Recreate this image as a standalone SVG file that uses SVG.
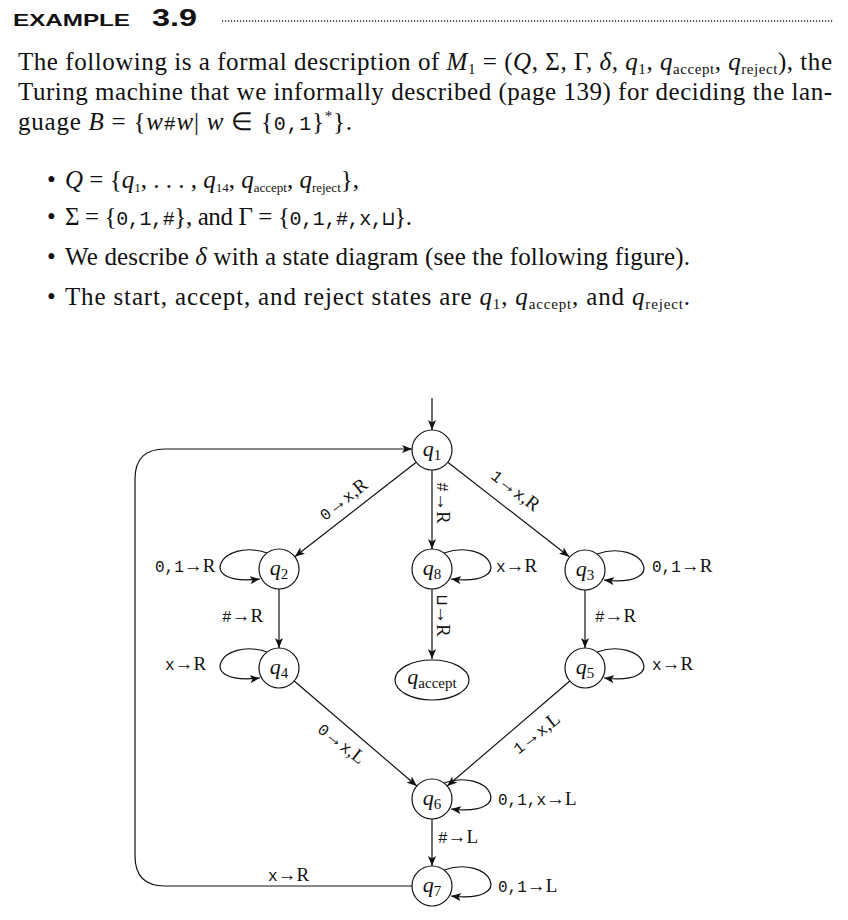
<svg xmlns="http://www.w3.org/2000/svg" width="848" height="920" viewBox="0 0 848 920">
<style>
.body{font-family:"Liberation Serif","Times New Roman",serif;font-size:25px;fill:#111}
.it{font-style:italic}
.sb{font-size:15px;font-style:normal}
.sb2{font-size:13px;font-style:normal}
.tt{font-family:"Liberation Mono","DejaVu Sans Mono",monospace;font-size:20px}
.lbl{font-family:"Liberation Serif",serif;font-size:19px;fill:#111}
.lt{font-family:"Liberation Mono",monospace;font-size:16px}
.st{font-family:"Liberation Serif",serif;font-size:22px;fill:#111;text-anchor:middle}
.node{fill:#fff;stroke:#111;stroke-width:1.2}
.edge{fill:none;stroke:#111;stroke-width:1.2}
</style>
<defs>
<marker id="ah" viewBox="0 0 10 8" refX="10" refY="4" markerWidth="10" markerHeight="8" markerUnits="userSpaceOnUse" orient="auto">
<path d="M0,0 L10,4 L0,8 L2.5,4 Z" fill="#111"/>
</marker>
</defs>
<rect width="848" height="920" fill="#fff"/>

<g id="header">
<text x="13" y="26" font-family="Liberation Sans, Arial, sans-serif" font-weight="bold" font-size="17" textLength="117" lengthAdjust="spacingAndGlyphs" fill="#111">EXAMPLE</text>
<text x="152" y="26" font-family="Liberation Sans, Arial, sans-serif" font-weight="bold" font-size="24" textLength="45" lengthAdjust="spacingAndGlyphs" fill="#111">3.9</text>
<line x1="222" y1="21" x2="833" y2="21" stroke="#222" stroke-width="1.4" stroke-dasharray="1.2 1.8"/>
</g>

<g id="intro" class="body">
<text x="18" y="70" textLength="814" lengthAdjust="spacing">The following is a formal description of <tspan class="it">M</tspan><tspan class="sb" dy="4">1</tspan><tspan dy="-4"> = (</tspan><tspan class="it">Q</tspan>, Σ, Γ, <tspan class="it">δ</tspan>, <tspan class="it">q</tspan><tspan class="sb" dy="4">1</tspan><tspan dy="-4">, </tspan><tspan class="it">q</tspan><tspan class="sb" dy="4">accept</tspan><tspan dy="-4">, </tspan><tspan class="it">q</tspan><tspan class="sb" dy="4">reject</tspan><tspan dy="-4">), the</tspan></text>
<text x="18" y="100" textLength="814" lengthAdjust="spacing">Turing machine that we informally described (page 139) for deciding the lan-</text>
<text x="18" y="130" textLength="334" lengthAdjust="spacing">guage <tspan class="it">B</tspan> = {<tspan class="it">w</tspan><tspan class="tt">#</tspan><tspan class="it">w</tspan>| <tspan class="it">w</tspan> ∈ {<tspan class="tt">0,1</tspan>}<tspan font-size="15" dy="-9">*</tspan><tspan dy="9">}.</tspan></text>
</g>

<g id="bullets" class="body">
<text x="47" y="188">•</text>
<text x="65" y="188"><tspan class="it">Q</tspan> = {<tspan class="it">q</tspan><tspan class="sb2" dy="4">1</tspan><tspan dy="-4">, . . . , </tspan><tspan class="it">q</tspan><tspan class="sb2" dy="4">14</tspan><tspan dy="-4">, </tspan><tspan class="it">q</tspan><tspan class="sb2" dy="4">accept</tspan><tspan dy="-4">, </tspan><tspan class="it">q</tspan><tspan class="sb2" dy="4">reject</tspan><tspan dy="-4">},</tspan></text>
<text x="47" y="225">•</text>
<text x="65" y="225" textLength="347" lengthAdjust="spacing">Σ = {<tspan class="tt">0,1,#</tspan>}, and Γ = {<tspan class="tt">0,1,#,x,⊔</tspan>}.</text>
<text x="47" y="265">•</text>
<text x="65" y="265" textLength="625" lengthAdjust="spacing">We describe <tspan class="it">δ</tspan> with a state diagram (see the following figure).</text>
<text x="47" y="305">•</text>
<text x="65" y="305" textLength="625" lengthAdjust="spacing">The start, accept, and reject states are <tspan class="it">q</tspan><tspan class="sb" dy="4">1</tspan><tspan dy="-4">, </tspan><tspan class="it">q</tspan><tspan class="sb" dy="4">accept</tspan><tspan dy="-4">, and </tspan><tspan class="it">q</tspan><tspan class="sb" dy="4">reject</tspan><tspan dy="-4">.</tspan></text>
</g>

<g id="connectors">
<line class="edge" x1="432" y1="398" x2="432" y2="430" marker-end="url(#ah)"/>
<path class="edge" d="M412,886 H165 Q135,886 135,856 V479 Q135,449 165,449 H412" marker-end="url(#ah)"/>
<line class="edge" x1="416.2" y1="462.3" x2="294.8" y2="556.7" marker-end="url(#ah)"/>
<line class="edge" x1="447.8" y1="462.3" x2="569.2" y2="556.7" marker-end="url(#ah)"/>
<line class="edge" x1="432" y1="470" x2="432" y2="549" marker-end="url(#ah)"/>
<line class="edge" x1="432" y1="589" x2="432" y2="659" marker-end="url(#ah)"/>
<line class="edge" x1="279" y1="589" x2="279" y2="648" marker-end="url(#ah)"/>
<line class="edge" x1="585" y1="590" x2="585" y2="648" marker-end="url(#ah)"/>
<line class="edge" x1="294.2" y1="681" x2="416.8" y2="786" marker-end="url(#ah)"/>
<line class="edge" x1="569.8" y1="681" x2="447.2" y2="786" marker-end="url(#ah)"/>
<line class="edge" x1="432" y1="819" x2="432" y2="866" marker-end="url(#ah)"/>
<path class="edge" d="M267,553 C221,537 193,587 260,579" marker-end="url(#ah)"/>
<path class="edge" d="M267,652 C221,636 193,686 260,678" marker-end="url(#ah)"/>
<path class="edge" d="M444,553 C490,537 518,587 451,579" marker-end="url(#ah)"/>
<path class="edge" d="M597,554 C643,538 671,588 604,580" marker-end="url(#ah)"/>
<path class="edge" d="M597,652 C643,636 671,686 604,678" marker-end="url(#ah)"/>
<path class="edge" d="M444,783 C490,767 518,817 451,809" marker-end="url(#ah)"/>
<path class="edge" d="M444,870 C490,854 518,904 451,896" marker-end="url(#ah)"/>
</g>

<g id="labels" class="lbl">
<text transform="translate(347,504) rotate(-38)" text-anchor="middle"><tspan class="lt">0</tspan>→<tspan class="lt">x</tspan>,R</text>
<text transform="translate(512,495) rotate(38)" text-anchor="middle"><tspan class="lt">1</tspan>→<tspan class="lt">x</tspan>,R</text>
<text transform="translate(437,503) rotate(90)" text-anchor="middle"><tspan class="lt">#</tspan>→R</text>
<text transform="translate(437,616) rotate(90)" text-anchor="middle"><tspan class="lt">⊔</tspan>→R</text>
<text x="155" y="572"><tspan class="lt">0,1</tspan>→R</text>
<text x="496" y="572"><tspan class="lt">x</tspan>→R</text>
<text x="652" y="572"><tspan class="lt">0,1</tspan>→R</text>
<text x="222" y="622"><tspan class="lt">#</tspan>→R</text>
<text x="595" y="622"><tspan class="lt">#</tspan>→R</text>
<text x="165" y="670"><tspan class="lt">x</tspan>→R</text>
<text x="652" y="670"><tspan class="lt">x</tspan>→R</text>
<text transform="translate(338,748) rotate(38)" text-anchor="middle"><tspan class="lt">0</tspan>→<tspan class="lt">x</tspan>,L</text>
<text transform="translate(540,738) rotate(-38)" text-anchor="middle"><tspan class="lt">1</tspan>→<tspan class="lt">x</tspan>,L</text>
<text x="498" y="805"><tspan class="lt">0,1,x</tspan>→L</text>
<text x="438" y="843"><tspan class="lt">#</tspan>→L</text>
<text x="498" y="892"><tspan class="lt">0,1</tspan>→L</text>
<text x="268" y="881"><tspan class="lt">x</tspan>→R</text>
</g>

<g id="q1"><circle class="node" cx="432" cy="450" r="20"/><text class="st" x="432" y="456"><tspan class="it">q</tspan><tspan class="sb" dy="4">1</tspan></text></g>
<g id="q2"><circle class="node" cx="279" cy="569" r="20"/><text class="st" x="279" y="575"><tspan class="it">q</tspan><tspan class="sb" dy="4">2</tspan></text></g>
<g id="q8"><circle class="node" cx="432" cy="569" r="20"/><text class="st" x="432" y="575"><tspan class="it">q</tspan><tspan class="sb" dy="4">8</tspan></text></g>
<g id="q3"><circle class="node" cx="585" cy="570" r="20"/><text class="st" x="585" y="576"><tspan class="it">q</tspan><tspan class="sb" dy="4">3</tspan></text></g>
<g id="q4"><circle class="node" cx="279" cy="668" r="20"/><text class="st" x="279" y="674"><tspan class="it">q</tspan><tspan class="sb" dy="4">4</tspan></text></g>
<g id="qaccept"><ellipse class="node" cx="432" cy="680" rx="37" ry="20"/><text class="st" x="432" y="684"><tspan class="it">q</tspan><tspan class="sb" dy="4">accept</tspan></text></g>
<g id="q5"><circle class="node" cx="585" cy="668" r="20"/><text class="st" x="585" y="674"><tspan class="it">q</tspan><tspan class="sb" dy="4">5</tspan></text></g>
<g id="q6"><circle class="node" cx="432" cy="799" r="20"/><text class="st" x="432" y="805"><tspan class="it">q</tspan><tspan class="sb" dy="4">6</tspan></text></g>
<g id="q7"><circle class="node" cx="432" cy="886" r="20"/><text class="st" x="432" y="892"><tspan class="it">q</tspan><tspan class="sb" dy="4">7</tspan></text></g>
</svg>
